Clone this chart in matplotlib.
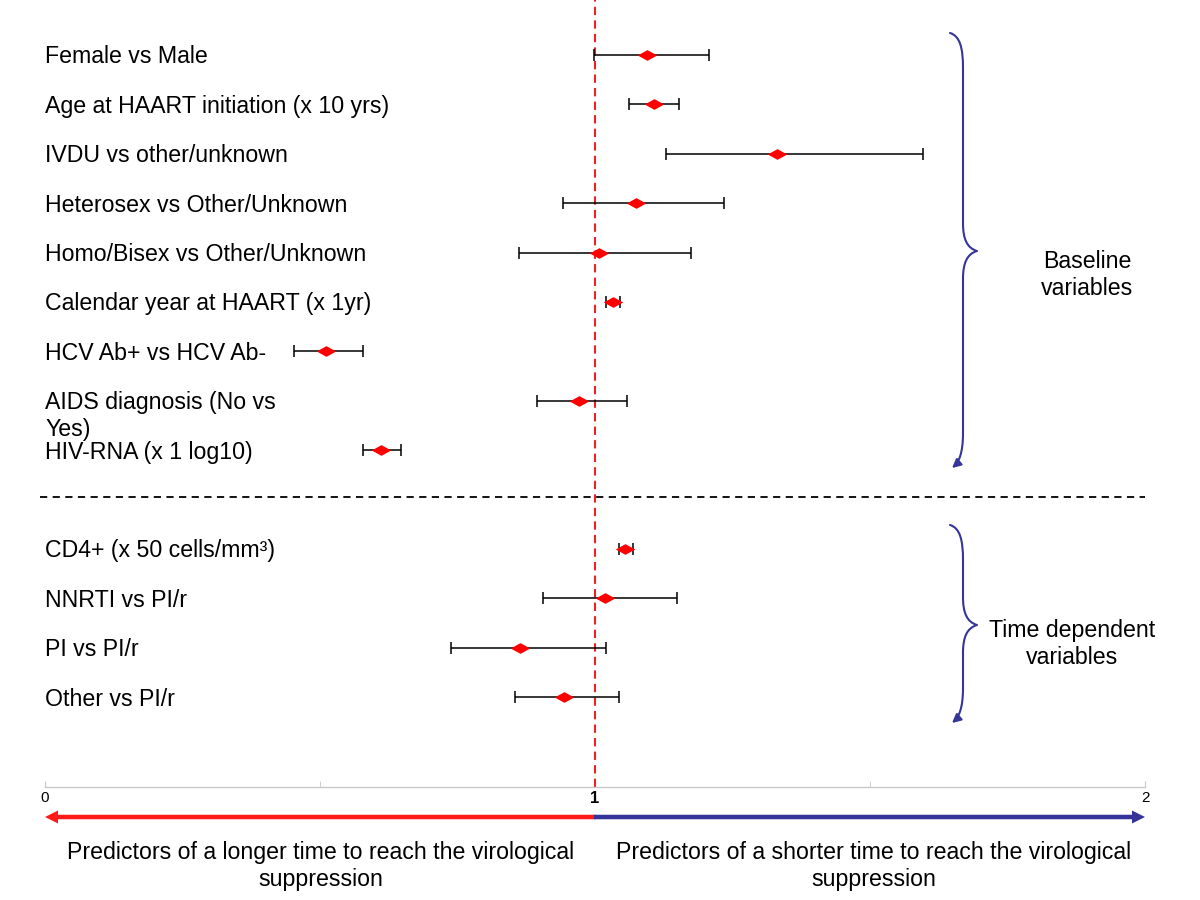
import matplotlib
matplotlib.use("Agg")
import matplotlib.pyplot as plt
from matplotlib.path import Path
from matplotlib.patches import FancyArrowPatch, FancyArrow

plt.rcParams["font.family"] = ["Liberation Sans", "DejaVu Sans"]

# hazard ratios with 95% CI
baseline_labels = [
    "Female vs Male",
    "Age at HAART initiation (x 10 yrs)",
    "IVDU vs other/unknown",
    "Heterosex vs Other/Unknown",
    "Homo/Bisex vs Other/Unknown",
    "Calendar year at HAART (x 1yr)",
    "HCV Ab+ vs HCV Ab-",
    "AIDS diagnosis (No vs\nYes)",
    "HIV-RNA (x 1 log10)",
]
baseline_hr = [1.095, 1.107, 1.331, 1.075, 1.007, 1.033, 0.511, 0.971, 0.611]
baseline_lo = [0.998, 1.062, 1.129, 0.942, 0.862, 1.020, 0.453, 0.895, 0.578]
baseline_hi = [1.207, 1.153, 1.596, 1.235, 1.175, 1.045, 0.578, 1.058, 0.647]

time_labels = [
    "CD4+ (x 50 cells/mm³)",
    "NNRTI vs PI/r",
    "PI vs PI/r",
    "Other vs PI/r",
]
time_hr = [1.055, 1.018, 0.864, 0.944]
time_lo = [1.044, 0.905, 0.738, 0.855]
time_hi = [1.069, 1.149, 1.020, 1.044]

x_ticks = [0, 1, 2]
x_ticklabels = ["0", "1", "2"]

labels = baseline_labels + time_labels
hr = baseline_hr + time_hr
lo = baseline_lo + time_lo
hi = baseline_hi + time_hi
# one empty row between the two groups
ypos = list(range(len(baseline_labels))) + [len(baseline_labels) + 1 + i for i in range(len(time_labels))]

fig = plt.figure(figsize=(12, 9), dpi=100)

# overlay in pixel units for the decorations
deco = fig.add_axes([0, 0, 1, 1])
deco.set_xlim(0, 1200)
deco.set_ylim(900, 0)
deco.axis("off")

ax = fig.add_axes([45 / 1200, 113 / 900, 1100 / 1200, 787 / 900])
ax.set_facecolor("none")
ax.set_xlim(0, 2)
ax.set_ylim(14.82, -1.113)

err_lo = [h - l for h, l in zip(hr, lo)]
err_hi = [u - h for h, u in zip(hr, hi)]
ax.errorbar(hr, ypos, xerr=[err_lo, err_hi], fmt="none", ecolor="black",
            elinewidth=1.1, capsize=4.5, capthick=1.1, zorder=3)

diamond = Path([(-1, 0), (0, 0.55), (1, 0), (0, -0.55), (-1, 0)],
               [Path.MOVETO, Path.LINETO, Path.LINETO, Path.LINETO, Path.CLOSEPOLY])
ax.plot(hr, ypos, linestyle="none", marker=diamond, markersize=14,
        color="red", markeredgewidth=0, zorder=4)

ax.axvline(1, color="#ee2222", linestyle=(0, (4, 2.5)), linewidth=1.5, zorder=2)

for lab, y in zip(labels, ypos):
    for k, line in enumerate(lab.split("\n")):
        ax.text(0, y + 0.04 + k * 0.55, line, ha="left", va="center", fontsize=16.7,
                color="black")

# axis at the bottom
for side in ["top", "left", "right"]:
    ax.spines[side].set_visible(False)
ax.spines["bottom"].set_color("#c8c8c8")
ax.spines["bottom"].set_linewidth(1.0)
ax.set_yticks([])
ax.set_xticks(x_ticks)
ax.set_xticklabels(x_ticklabels)
ax.set_xticks([0.5, 1.5], minor=True)
ax.tick_params(axis="x", which="both", direction="in", length=4, color="#c8c8c8",
               labelsize=11, pad=3)
tl = ax.get_xticklabels()
tl[1].set_fontweight("bold")
tl[1].set_fontsize(12)

# group separator
deco.plot([40, 1145], [497, 497], color="black", linestyle=(0, (4, 3)), linewidth=1.3)

# braces
brace_col = "#35359a"


def brace(top, tip, bottom):
    mid = tip
    verts = [
        (950, top), (960, top + 3), (963, top + 15), (963, top + 35),
        (963, mid - 28),
        (963, mid - 12), (967, mid - 3), (977, mid),
        (967, mid + 3), (963, mid + 12), (963, mid + 28),
        (963, bottom - 35),
        (963, bottom - 15), (959, bottom - 6), (952, bottom),
    ]
    codes = [Path.MOVETO, Path.CURVE4, Path.CURVE4, Path.CURVE4,
             Path.LINETO,
             Path.CURVE4, Path.CURVE4, Path.CURVE4,
             Path.CURVE4, Path.CURVE4, Path.CURVE4,
             Path.LINETO,
             Path.CURVE4, Path.CURVE4, Path.CURVE4]
    p = FancyArrowPatch(path=Path(verts, codes), arrowstyle="-|>", mutation_scale=13,
                        color=brace_col, linewidth=1.5)
    deco.add_patch(p)


brace(33, 251, 468)
brace(525, 625, 723)

deco.text(1087, 275, "Baseline\nvariables", ha="center", va="center",
          fontsize=16.7, linespacing=1.2)
deco.text(1072, 644, "Time dependent\nvariables", ha="center", va="center",
          fontsize=16.7, linespacing=1.2)

# direction arrows
deco.add_patch(FancyArrow(596, 817, -551, 0, width=4.5, head_width=13, head_length=13,
                          length_includes_head=True, color="#ff1a1a", linewidth=0))
deco.add_patch(FancyArrow(594, 817, 551, 0, width=4.5, head_width=13, head_length=13,
                          length_includes_head=True, color="#333399", linewidth=0))

deco.text(321, 866, "Predictors of a longer time to reach the virological\nsuppression",
          ha="center", va="center", fontsize=16.7, linespacing=1.2)
deco.text(874, 866, "Predictors of a shorter time to reach the virological\nsuppression",
          ha="center", va="center", fontsize=16.7, linespacing=1.2)

fig.savefig("out.png", dpi=100)
